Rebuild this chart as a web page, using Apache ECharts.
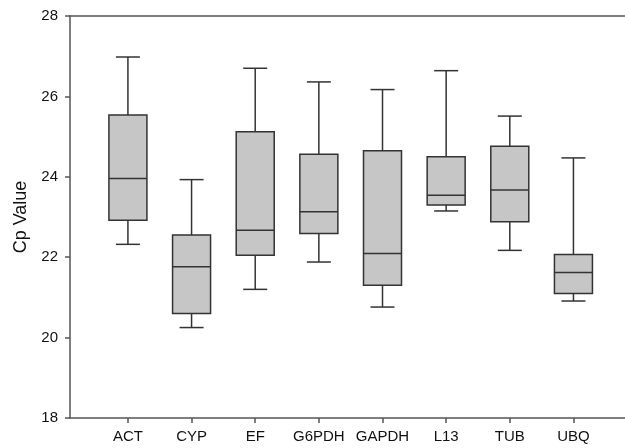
<!DOCTYPE html>
<html>
<head>
<meta charset="utf-8">
<script src="https://cdn.jsdelivr.net/npm/echarts@6/dist/echarts.min.js"></script>
<style>
  html, body { margin: 0; padding: 0; background: #fff; }
  #chart { width: 625px; height: 448px; }
</style>
</head>
<body>
<div id="chart"></div>
<script>
// genes on the x axis
var categories = ['ACT', 'CYP', 'EF', 'G6PDH', 'GAPDH', 'L13', 'TUB', 'UBQ'];
// [min, Q1, median, Q3, max] per gene
var boxValues = [
    [22.32, 22.92, 23.96, 25.54, 26.98],
    [20.25, 20.60, 21.76, 22.55, 23.93],
    [21.20, 22.05, 22.67, 25.12, 26.70],
    [21.88, 22.59, 23.13, 24.56, 26.36],
    [20.76, 21.30, 22.09, 24.65, 26.17],
    [23.15, 23.30, 23.54, 24.50, 26.64],
    [22.17, 22.88, 23.67, 24.76, 25.51],
    [20.91, 21.10, 21.62, 22.07, 24.47]
];
var yTicks = [18, 20, 22, 24, 26, 28];
var catPos = categories.map(function (c, i) { return i + 1; });

var seriesData = boxValues.map(function (v, i) {
    return [catPos[i]].concat(v);
});

var lineColor = '#333';
var boxFill = '#c6c6c6';

function renderBox(params, api) {
    var x = api.value(0);
    var pMin = api.coord([x, api.value(1)]);
    var pQ1 = api.coord([x, api.value(2)]);
    var pMed = api.coord([x, api.value(3)]);
    var pQ3 = api.coord([x, api.value(4)]);
    var pMax = api.coord([x, api.value(5)]);
    var half = 19, cap = 12;
    var ls = { stroke: lineColor, lineWidth: 1.5 };
    return {
        type: 'group',
        children: [
            { type: 'line', shape: { x1: pQ3[0], y1: pQ3[1], x2: pMax[0], y2: pMax[1] }, style: ls },
            { type: 'line', shape: { x1: pQ1[0], y1: pQ1[1], x2: pMin[0], y2: pMin[1] }, style: ls },
            { type: 'line', shape: { x1: pMax[0] - cap, y1: pMax[1], x2: pMax[0] + cap, y2: pMax[1] }, style: ls },
            { type: 'line', shape: { x1: pMin[0] - cap, y1: pMin[1], x2: pMin[0] + cap, y2: pMin[1] }, style: ls },
            { type: 'rect', shape: { x: pQ3[0] - half, y: pQ3[1], width: half * 2, height: pQ1[1] - pQ3[1] },
              style: { fill: boxFill, stroke: lineColor, lineWidth: 1.5 } },
            { type: 'line', shape: { x1: pMed[0] - half, y1: pMed[1], x2: pMed[0] + half, y2: pMed[1] }, style: ls }
        ]
    };
}

var chart = echarts.init(document.getElementById('chart'));
var axisStyle = { color: '#555', width: 1.5 };
chart.setOption({
    animation: false,
    grid: { left: 70, right: 0, top: 16, bottom: 30 },
    xAxis: [{
        type: 'value',
        min: 0.09,
        max: 8.81,
        position: 'bottom',
        splitLine: { show: false },
        axisLine: { lineStyle: axisStyle },
        axisTick: { customValues: catPos, length: 5, lineStyle: axisStyle },
        axisLabel: {
            customValues: catPos,
            formatter: function (v) { return categories[Math.round(v) - 1]; },
            color: '#111',
            fontSize: 15,
            fontFamily: 'Liberation Sans',
            margin: 11
        }
    }, {
        type: 'value',
        min: 0.09,
        max: 8.81,
        position: 'top',
        splitLine: { show: false },
        axisLine: { lineStyle: axisStyle },
        axisTick: { show: false },
        axisLabel: { show: false }
    }],
    yAxis: {
        type: 'value',
        min: yTicks[0],
        max: yTicks[yTicks.length - 1],
        interval: 2,
        name: 'Cp Value',
        nameLocation: 'middle',
        nameGap: 40,
        nameTextStyle: { color: '#111', fontSize: 18, fontFamily: 'Liberation Sans' },
        splitLine: { show: false },
        axisLine: { show: true, lineStyle: axisStyle },
        axisTick: { show: true, length: 5, lineStyle: axisStyle },
        axisLabel: { color: '#111', fontSize: 15, fontFamily: 'Liberation Sans', margin: 12 }
    },
    series: [{
        type: 'custom',
        renderItem: renderBox,
        encode: { x: 0, y: [1, 2, 3, 4, 5] },
        data: seriesData
    }]
});
</script>
</body>
</html>
